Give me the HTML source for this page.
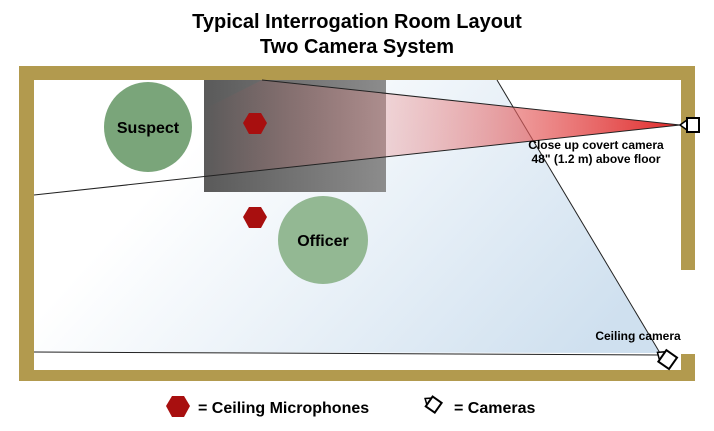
<!DOCTYPE html>
<html><head><meta charset="utf-8"><style>
body{margin:0;background:#fff;width:714px;height:426px;overflow:hidden;font-family:"Liberation Sans",Arial,sans-serif}
</style></head><body>
<svg width="714" height="426" viewBox="0 0 714 426" xmlns="http://www.w3.org/2000/svg" font-family="Liberation Sans, Arial, sans-serif">
<defs>
<linearGradient id="blue" x1="0" y1="0.3" x2="1" y2="0.7">
<stop offset="0.2" stop-color="#ffffff"/><stop offset="1" stop-color="#cfe0ef"/></linearGradient>
<linearGradient id="red" gradientUnits="userSpaceOnUse" x1="204" y1="0" x2="680" y2="0">
<stop offset="0" stop-color="#e04040" stop-opacity="0"/><stop offset="0.38" stop-color="#e89090" stop-opacity="0.35"/><stop offset="1" stop-color="#e02828"/></linearGradient>
<linearGradient id="tab" x1="0" y1="0" x2="1" y2="0">
<stop offset="0" stop-color="#5a5a5a"/><stop offset="1" stop-color="#8c8c8c"/></linearGradient>
</defs>
<text x="357" y="28" text-anchor="middle" font-size="20" font-weight="bold">Typical Interrogation Room Layout</text>
<text x="357" y="53" text-anchor="middle" font-size="20" font-weight="bold">Two Camera System</text>
<rect x="19" y="66" width="676" height="315" fill="#b29a4e"/>
<rect x="34" y="80" width="647" height="290" fill="#fff"/>
<rect x="681" y="270" width="14" height="84" fill="#fff"/>
<polygon points="34,80 497,80 660,353 34,352" fill="url(#blue)"/>
<line x1="497" y1="80" x2="660" y2="353" stroke="#222" stroke-width="1"/>
<line x1="34" y1="352" x2="660" y2="355" stroke="#222" stroke-width="1"/>
<rect x="204" y="80" width="182" height="112" fill="url(#tab)"/>
<polygon points="262,80 680,125 34,195" fill="url(#red)"/>
<line x1="262" y1="80" x2="680" y2="125" stroke="#222" stroke-width="1"/>
<line x1="34" y1="195" x2="680" y2="125" stroke="#222" stroke-width="1"/>
<ellipse cx="148" cy="127" rx="44" ry="45" fill="#7aa57a"/>
<text x="148" y="133" text-anchor="middle" font-size="16" font-weight="bold">Suspect</text>
<ellipse cx="323" cy="240" rx="45" ry="44" fill="#93b893"/>
<text x="323" y="246" text-anchor="middle" font-size="16" font-weight="bold">Officer</text>
<polygon points="249,113 261,113 267,123 261,134 249,134 243,123" fill="#a80f0f"/>
<polygon points="249,207 261,207 267,217 261,228 249,228 243,217" fill="#a80f0f"/>
<polygon points="680,125 687,120 687,130" fill="#fff" stroke="#000" stroke-width="1.5"/>
<rect x="687" y="118" width="12" height="14" fill="#fff" stroke="#000" stroke-width="2"/>
<text x="596" y="149" text-anchor="middle" font-size="12" font-weight="bold">Close up covert camera</text>
<text x="596" y="163" text-anchor="middle" font-size="12" font-weight="bold">48" (1.2 m) above floor</text>
<g transform="translate(664,357) rotate(35)">
<polygon points="-8,0 -2,-5 -2,5" fill="#fff" stroke="#000" stroke-width="1.5"/>
<rect x="-2" y="-7" width="13" height="14" fill="#fff" stroke="#000" stroke-width="2"/>
</g>
<text x="638" y="340" text-anchor="middle" font-size="12" font-weight="bold">Ceiling camera</text>
<polygon points="172,396 184,396 190,406 184,417 172,417 166,406" fill="#a80f0f"/>
<text x="198" y="413" font-size="16" font-weight="bold">= Ceiling Microphones</text>
<g transform="translate(430,402) rotate(35)">
<polygon points="-6,0 -1,-4 -1,4" fill="#fff" stroke="#000" stroke-width="1.5"/>
<rect x="-1" y="-6" width="11" height="12" fill="#fff" stroke="#000" stroke-width="2"/>
</g>
<text x="454" y="413" font-size="16" font-weight="bold">= Cameras</text>
</svg>
</body></html>
